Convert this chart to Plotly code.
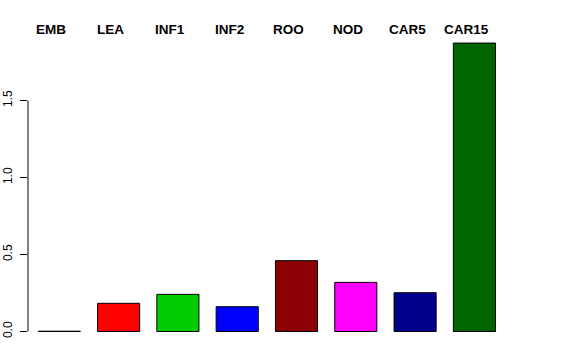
import plotly.graph_objects as go

categories = ["EMB", "LEA", "INF1", "INF2", "ROO", "NOD", "CAR5", "CAR15"]
values = [0.002, 0.183, 0.241, 0.161, 0.46, 0.319, 0.252, 1.873]
colors = ["#000000", "#FF0000", "#00CD00", "#0000FF", "#8B0000", "#FF00FF", "#00008B", "#006400"]
y_ticks = [0.0, 0.5, 1.0, 1.5]
y_ticklabels = ["0.0", "0.5", "1.0", "1.5"]

W, H = 576, 360
left = 28
step = 59.3
y0px = 331.5
unit = 154.0

xs = list(range(len(categories)))
fig = go.Figure(go.Bar(
    x=xs, y=values, width=0.71,
    marker=dict(color=colors, line=dict(color="#000000", width=1)),
    hoverinfo="skip",
))

for i, c in enumerate(categories):
    fig.add_annotation(x=i, y=1 - 29 / H, yref="paper", text="<b>%s</b>" % c,
                       showarrow=False, font=dict(size=13.5, color="#000000",
                       family="Liberation Sans, Arial, sans-serif"),
                       xanchor="center", yanchor="middle", xshift=-8)

fig.add_shape(type="line", xref="paper", yref="y", x0=0, x1=0,
              y0=y_ticks[0], y1=y_ticks[-1], line=dict(color="#000000", width=1))

fig.update_layout(
    width=W, height=H,
    margin=dict(l=left, r=0, t=0, b=0),
    paper_bgcolor="white", plot_bgcolor="white",
    showlegend=False,
    font=dict(family="Liberation Sans, Arial, sans-serif", color="#000000"),
    xaxis=dict(range=[left / step - 1, W / step - 1], visible=False, fixedrange=True),
    yaxis=dict(range=[-(H - y0px) / unit, y0px / unit], tickvals=y_ticks,
               ticktext=y_ticklabels, ticks="outside", ticklen=7,
               tickcolor="#000000", tickangle=-90, showgrid=False,
               zeroline=False, showline=False, tickfont=dict(size=12),
               ticklabelstandoff=3, fixedrange=True),
)
fig.write_html("out.html")
